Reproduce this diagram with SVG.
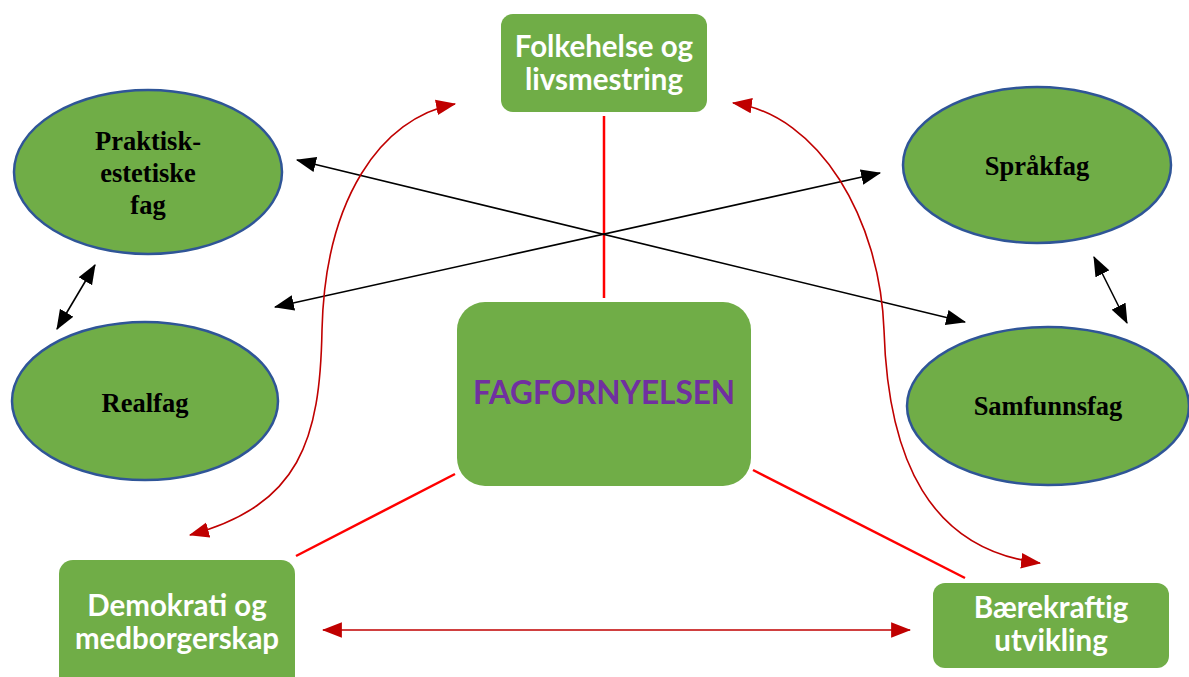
<svg xmlns="http://www.w3.org/2000/svg" width="1189" height="677" viewBox="0 0 1189 677">
<defs>
<style>
.box{fill:#70AD47;}
.ell{fill:#70AD47;stroke:#2F5597;stroke-width:2.5;}
.bt{font-family:Lato,"Open Sans",sans-serif;font-weight:bold;font-size:29.5px;fill:#fff;text-anchor:middle;}
.et{font-family:"Liberation Serif",serif;font-weight:bold;font-size:26.5px;fill:#000;text-anchor:middle;}
.blk{stroke:#000;stroke-width:1.6;fill:none;marker-start:url(#ab);marker-end:url(#ab);}
.red{stroke:#FF0000;stroke-width:2.5;fill:none;}
.dred{stroke:#C00000;stroke-width:1.6;fill:none;marker-start:url(#ar);marker-end:url(#ar);}
</style>
<marker id="ab" markerUnits="userSpaceOnUse" markerWidth="20" markerHeight="16" refX="17" refY="7" orient="auto-start-reverse" viewBox="0 0 18 14"><path d="M0,0 L18,7 L0,14 Z" fill="#000"/></marker>
<marker id="ar" markerUnits="userSpaceOnUse" markerWidth="20" markerHeight="16" refX="17" refY="7" orient="auto-start-reverse" viewBox="0 0 18 14"><path d="M0,0 L18,7 L0,14 Z" fill="#C00000"/></marker>
</defs>
<rect width="1189" height="677" fill="#fff"/>
<g id="connectors">
<line class="red" x1="604" y1="116" x2="604" y2="298"/>
<line class="red" x1="455" y1="474" x2="296" y2="556"/>
<line class="red" x1="753" y1="470" x2="965" y2="578"/>
<line class="blk" x1="297" y1="160" x2="965" y2="322"/>
<line class="blk" x1="275" y1="307" x2="880" y2="173"/>
<line class="blk" x1="95" y1="265" x2="57" y2="329"/>
<line class="blk" x1="1094" y1="257" x2="1127" y2="323"/>
<path class="dred" d="M190,535 C300,505 320,440 322,330 C325,200 380,118 455,104"/>
<path class="dred" d="M733,103 C820,115 880,220 884,330 C888,460 930,550 1040,563"/>
<line class="dred" x1="323" y1="630" x2="910" y2="630"/>
</g>
<g id="folkehelse">
<rect class="box" x="501" y="14" width="206" height="98" rx="12"/>
<text class="bt" x="604" y="57">Folkehelse og</text>
<text class="bt" x="604" y="90">livsmestring</text>
</g>
<g id="fagfornyelsen">
<rect class="box" x="457" y="302" width="294" height="184" rx="28"/>
<text x="604" y="404" font-family="Lato,'Open Sans',sans-serif" font-weight="bold" font-size="31.5" fill="#7030A0" text-anchor="middle">FAGFORNYELSEN</text>
</g>
<g id="demokrati">
<rect class="box" x="59" y="560" width="236" height="130" rx="14"/>
<text class="bt" x="177" y="616">Demokrati og</text>
<text class="bt" x="177" y="649">medborgerskap</text>
</g>
<g id="baerekraftig">
<rect class="box" x="933" y="583" width="236" height="85" rx="12"/>
<text class="bt" x="1051" y="618">Bærekraftig</text>
<text class="bt" x="1051" y="651">utvikling</text>
</g>
<g id="praktisk">
<ellipse class="ell" cx="148" cy="172" rx="134" ry="82"/>
<text class="et" x="148" y="150">Praktisk-</text>
<text class="et" x="148" y="182">estetiske</text>
<text class="et" x="148" y="214">fag</text>
</g>
<g id="sprakfag">
<ellipse class="ell" cx="1037" cy="165" rx="134" ry="78"/>
<text class="et" x="1037" y="175">Språkfag</text>
</g>
<g id="realfag">
<ellipse class="ell" cx="145" cy="401" rx="133" ry="79"/>
<text class="et" x="145" y="412">Realfag</text>
</g>
<g id="samfunnsfag">
<ellipse class="ell" cx="1048" cy="406" rx="141" ry="79"/>
<text class="et" x="1048" y="415">Samfunnsfag</text>
</g>
</svg>
